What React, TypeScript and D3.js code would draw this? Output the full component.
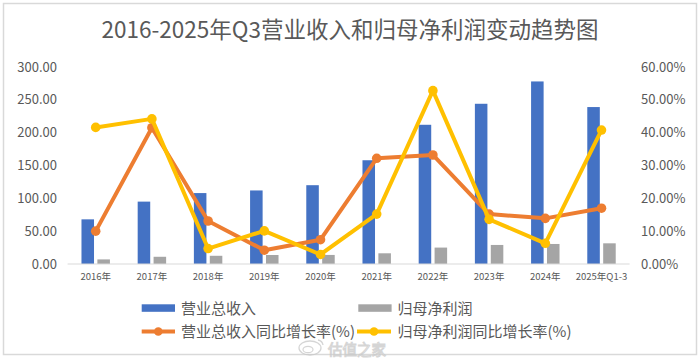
import React from "react";
import * as d3 from "d3";

const categories = ["2016年", "2017年", "2018年", "2019年", "2020年", "2021年", "2022年", "2023年", "2024年", "2025年Q1-3"];
const revenue = [68, 95, 108, 112, 120, 158, 212, 244, 278, 239];
const netProfit = [7, 11, 12.5, 13.7, 13.8, 16.3, 25, 29, 30.5, 31.5];
const revenueGrowth = [10.0, 41.5, 13.1, 4.2, 7.4, 32.2, 33.2, 15.2, 13.9, 17.0];
const profitGrowth = [41.6, 44.2, 4.7, 10.1, 2.9, 15.2, 52.8, 13.6, 6.3, 40.8];
const leftTicks = [0, 50, 100, 150, 200, 250, 300];
const rightTicks = [0, 10, 20, 30, 40, 50, 60];

const W = 700;
const H = 359;
const FONT = "'Noto Sans CJK SC', 'Noto Sans', sans-serif";
const TEXT = "#595959";
const BLUE = "#4472C4";
const GRAY = "#A5A5A5";
const ORANGE = "#ED7D31";
const YELLOW = "#FFC000";

export default function App() {
  const x = d3.scaleBand<string>().domain(categories).range([67.6, 629.6]).paddingInner(0).paddingOuter(0);
  const yL = d3.scaleLinear().domain([0, 300]).range([264, 67]);
  const yR = d3.scaleLinear().domain([0, 60]).range([264, 67]);
  const bw = x.bandwidth();
  const barW = bw * 0.223;
  const gap = bw * 0.06;
  const cx = (c: string) => (x(c) as number) + bw / 2;

  const lineGen = d3
    .line<number>()
    .x((_, i) => cx(categories[i]))
    .y((d) => yR(d));

  return (
    <svg width={W} height={H} style={{ position: "absolute", left: 0, top: 0, fontFamily: FONT }}>
      <rect x={0} y={0} width={W} height={H} fill="#fff" />
      <rect x={3.5} y={3.5} width={693} height={351} fill="#fff" stroke="#d9d9d9" strokeWidth={1.5} />
      <text x={350} y={38} textAnchor="middle" fontSize={22.5} fill="#595959" fontWeight={400}>
        2016-2025年Q3营业收入和归母净利润变动趋势图
      </text>

      {leftTicks.map((t) => (
        <text key={"l" + t} x={57} y={yL(t)} dy="0.35em" textAnchor="end" fontSize={13} fill={TEXT}>
          {t.toFixed(2)}
        </text>
      ))}
      {rightTicks.map((t) => (
        <text key={"r" + t} x={641} y={yR(t)} dy="0.35em" textAnchor="start" fontSize={13} fill={TEXT}>
          {t.toFixed(2)}%
        </text>
      ))}

      {categories.map((c, i) => (
        <g key={c}>
          <rect x={cx(c) - gap / 2 - barW} y={yL(revenue[i])} width={barW} height={264 - yL(revenue[i])} fill={BLUE} />
          <rect x={cx(c) + gap / 2} y={yL(netProfit[i])} width={barW} height={264 - yL(netProfit[i])} fill={GRAY} />
        </g>
      ))}
      <line x1={67.6} x2={629.6} y1={264} y2={264} stroke="#d9d9d9" strokeWidth={1} />

      {categories.map((c) => (
        <text key={"x" + c} x={cx(c)} y={280} textAnchor="middle" fontSize={9.5} fill={TEXT}>
          {c}
        </text>
      ))}

      <path d={lineGen(revenueGrowth) || ""} fill="none" stroke={ORANGE} strokeWidth={4} strokeLinejoin="round" />
      {revenueGrowth.map((v, i) => (
        <circle key={"o" + i} cx={cx(categories[i])} cy={yR(v)} r={4.8} fill={ORANGE} />
      ))}
      <path d={lineGen(profitGrowth) || ""} fill="none" stroke={YELLOW} strokeWidth={4} strokeLinejoin="round" />
      {profitGrowth.map((v, i) => (
        <circle key={"y" + i} cx={cx(categories[i])} cy={yR(v)} r={4.8} fill={YELLOW} />
      ))}

      {/* legend */}
      <rect x={141.7} y={304.3} width={33.3} height={7.5} fill={BLUE} />
      <text x={181} y={308.5} dy="0.35em" fontSize={15} fill={TEXT}>营业总收入</text>
      <rect x={358.3} y={304.3} width={33.3} height={7.5} fill={GRAY} />
      <text x={397.5} y={308.5} dy="0.35em" fontSize={15} fill={TEXT}>归母净利润</text>

      <line x1={141.7} x2={175} y1={331.5} y2={331.5} stroke={ORANGE} strokeWidth={4} />
      <circle cx={158.3} cy={331.5} r={4.3} fill={ORANGE} />
      <text x={181} y={331.5} dy="0.35em" fontSize={15} fill={TEXT}>营业总收入同比增长率(%)</text>
      <line x1={357} x2={391} y1={331.5} y2={331.5} stroke={YELLOW} strokeWidth={4} />
      <circle cx={374} cy={331.5} r={4.3} fill={YELLOW} />
      <text x={397.5} y={331.5} dy="0.35em" fontSize={15} fill={TEXT}>归母净利润同比增长率(%)</text>

      {/* watermark */}
      <g opacity={0.75}>
        <ellipse cx={310} cy={348} rx={11} ry={7} fill="none" stroke="#c8c8c8" strokeWidth={1.3} />
        <ellipse cx={308} cy={349.5} rx={5} ry={3.2} fill="none" stroke="#c8c8c8" strokeWidth={1.2} />
        <path d="M318 340 a6 6 0 0 1 5 5" fill="none" stroke="#c8c8c8" strokeWidth={1.3} />
        <text x={328} y={349.5} dy="0.35em" fontSize={14.5} fill="#ffffff" stroke="#c8c8c8" strokeWidth={1}>
          估值之家
        </text>
      </g>
    </svg>
  );
}
